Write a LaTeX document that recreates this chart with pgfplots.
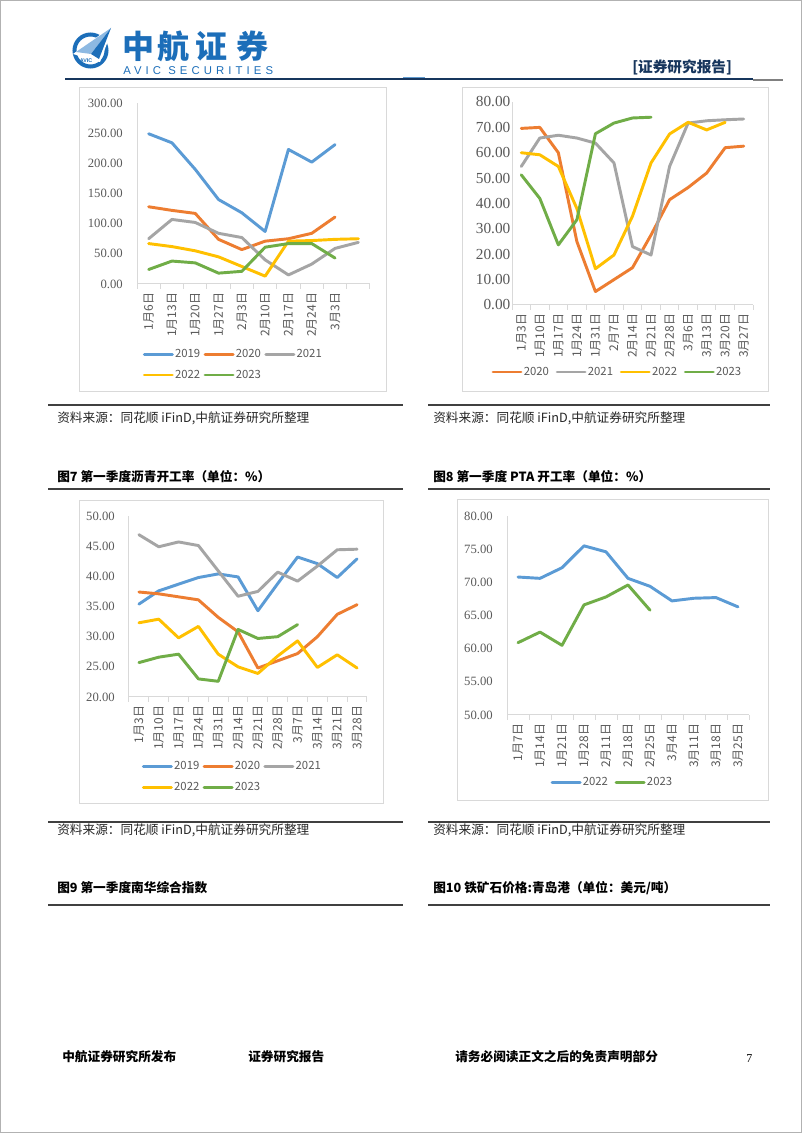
\documentclass[border=0pt]{standalone}
\usepackage{fontspec}
\setmainfont{Liberation Serif}
\newfontfamily\cjk{Noto Sans CJK SC}
\newfontfamily\avic[LetterSpace=36]{Liberation Sans}
\newfontfamily\lsans{Liberation Sans}
\usepackage{pgfplots}
\pgfplotsset{compat=1.18}
\definecolor{c19}{HTML}{5B9BD5}
\definecolor{c20}{HTML}{ED7D31}
\definecolor{c21}{HTML}{A5A5A5}
\definecolor{c22}{HTML}{FFC000}
\definecolor{c23}{HTML}{70AD47}
\definecolor{txt}{HTML}{595959}
\definecolor{axl}{HTML}{D9D9D9}
\definecolor{avicblue}{HTML}{1C6EB9}
\definecolor{aviclight}{HTML}{8DB9E2}
\definecolor{navy}{HTML}{17365D}

\pgfplotsset{
 excel/.style={
  scale only axis, clip=false, anchor=south west,
  axis x line=bottom, axis y line=left,
  axis line style={draw=axl, line width=0.75pt, -},
  tick align=outside,
  major tick length=0pt,
  minor tick length=3.5pt,
  minor tick style={draw=axl, line width=0.75pt},
  ytick style={draw=none},
  yticklabel style={font=\fontsize{9.5}{10}\selectfont, text=txt, inner sep=0pt},
  yticklabel shift=10.5pt,
  xticklabel style={font=\cjk\fontsize{9}{10}\selectfont, text=txt, rotate=90, anchor=east, inner sep=0pt},
  xticklabel shift=6.5pt,
  /pgf/number format/fixed, /pgf/number format/fixed zerofill,
  /pgf/number format/precision=2, /pgf/number format/assume math mode=true,
  legend style={draw=none, fill=none, font=\cjk\fontsize{8.5}{10}\selectfont, text=txt,
    anchor=center, row sep=6pt, /tikz/every even column/.append style={column sep=1.5pt},
    nodes={inner sep=1pt}},
  legend cell align=left,
  legend image code/.code={\draw[##1] (0pt,0pt) -- (21pt,0pt);},
  every axis plot/.append style={line width=2.2pt, line join=round, line cap=round, mark=none},
 }
}

\begin{document}
\begin{tikzpicture}
\useasboundingbox (0,0) rectangle (601.5pt,849.75pt);
\fill[white] (0,0) rectangle (601.5pt,849.75pt);
\begin{scope}[x=0.75pt,y=-0.75pt,shift={(0pt,849.75pt)}]
% page border
\draw[gray!60, line width=1pt] (0.7,0.7) rectangle (801.3,1132.3);
% logo
\draw[avicblue, line width=3pt] (90.5,50.5) circle (16);
\fill[white] (73,54) -- (114,25) -- (100,62) -- cycle;
\fill[aviclight] (76,52) -- (111,28) -- (91,54) -- cycle;
\fill[avicblue] (91,54) -- (111,28) -- (99,59) -- cycle;
\node[font=\lsans\bfseries\fontsize{4}{4}\selectfont, text=avicblue] at (86,61) {AVIC};
\foreach \xx/\ch in {138/中,173/航,211/证,252/券}{
  \node[font=\cjk\bfseries\fontsize{24}{26}\selectfont, text=avicblue, inner sep=0pt] at (\xx,46) {\ch};
}
\node[anchor=west, font=\avic\fontsize{8.5}{9}\selectfont, text=avicblue, inner sep=0pt] at (123,71) {AVIC SECURITIES};
\node[anchor=west, font=\cjk\bfseries\fontsize{11}{12}\selectfont, text=navy, inner sep=0pt] at (632,67) {[证券研究报告]};
% header rule
\draw[navy, line width=1.6pt] (65,79) -- (753,79);
\draw[gray, line width=0.8pt] (753,80) -- (783,80);
\draw[avicblue!70, line width=1.2pt] (403,77.5) -- (425,77.5);
% chart boxes
\draw[axl, line width=0.75pt] (79,88) rectangle (386,392);
\draw[axl, line width=0.75pt] (462,88) rectangle (768,392);
\draw[axl, line width=0.75pt] (79,501) rectangle (383,804);
\draw[axl, line width=0.75pt] (457,500) rectangle (768,801);
% separators
\foreach \yy in {405,489,822,905}{
  \draw[black!75, line width=1.2pt] (48,\yy) -- (403,\yy);
  \draw[black!75, line width=1.2pt] (428,\yy) -- (770,\yy);
}
\foreach \xx/\yy in {57/418,433/418,57/830,433/830}{
  \node[anchor=west, inner sep=0pt, font=\cjk\fontsize{9.5}{11}\selectfont, text=black!85] at (\xx,\yy) {资料来源：同花顺 iFinD,中航证券研究所整理};
}
\node[anchor=west, inner sep=0pt, font=\cjk\bfseries\fontsize{9.5}{11}\selectfont] at (57,477) {图7 第一季度沥青开工率（单位：\%）};
\node[anchor=west, inner sep=0pt, font=\cjk\bfseries\fontsize{9.5}{11}\selectfont] at (433,477) {图8 第一季度 PTA 开工率（单位：\%）};
\node[anchor=west, inner sep=0pt, font=\cjk\bfseries\fontsize{9.5}{11}\selectfont] at (57,888) {图9 第一季度南华综合指数};
\node[anchor=west, inner sep=0pt, font=\cjk\bfseries\fontsize{9.5}{11}\selectfont] at (433,888) {图10 铁矿石价格:青岛港（单位：美元/吨）};
% footer
\node[anchor=west, inner sep=0pt, font=\cjk\bfseries\fontsize{9.5}{11}\selectfont] at (62,1057) {中航证券研究所发布};
\node[anchor=west, inner sep=0pt, font=\cjk\bfseries\fontsize{9.5}{11}\selectfont] at (248,1057) {证券研究报告};
\node[anchor=west, inner sep=0pt, font=\cjk\bfseries\fontsize{9.5}{11}\selectfont] at (455,1057) {请务必阅读正文之后的免责声明部分};
\node[anchor=west, inner sep=0pt, font=\fontsize{9}{10}\selectfont] at (746,1059) {7};
\end{scope}

% ---------- Chart 1 ----------
\begin{axis}[excel, at={(102.75pt,636.75pt)}, width=174.75pt, height=135.75pt,
  xmin=-0.5, xmax=9.5, ymin=0, ymax=300, ytick={0,50,...,300},
  xtick={0,...,9}, xticklabels={1月6日,1月13日,1月20日,1月27日,2月3日,2月10日,2月17日,2月24日,3月3日,{}},
  minor xtick={-0.5,0.5,...,9.5},
  legend columns=3, legend style={at={(0.412,-0.445)}}]
\addplot[c19] coordinates {(0,249)(1,234)(2,190)(3,140)(4,118)(5,87)(6,223)(7,202)(8,231)};
\addlegendentry{2019}
\addplot[c20] coordinates {(0,128)(1,122)(2,117)(3,74)(4,57)(5,71)(6,75)(7,84)(8,111)};
\addlegendentry{2020}
\addplot[c21] coordinates {(0,75)(1,107)(2,102)(3,84)(4,77)(5,40)(6,15)(7,33)(8,59)(9,69)};
\addlegendentry{2021}
\addplot[c22] coordinates {(0,67)(1,62)(2,55)(3,45)(4,29)(5,13)(6,71)(7,72)(8,74)(9,75)};
\addlegendentry{2022}
\addplot[c23] coordinates {(0,24)(1,38)(2,35)(3,18)(4,21)(5,61)(6,67)(7,67)(8,43)};
\addlegendentry{2023}
\end{axis}

% ---------- Chart 2 ----------
\begin{axis}[excel, at={(384pt,621pt)}, width=180.75pt, height=152.25pt,
  xmin=-0.5, xmax=12.5, ymin=0, ymax=80, ytick={0,10,...,80},
  yticklabel style={font=\fontsize{11.5}{12}\selectfont},
  yticklabel shift=1pt,
  xtick={0,...,12}, xticklabels={1月3日,1月10日,1月17日,1月24日,1月31日,2月7日,2月14日,2月21日,2月28日,3月6日,3月13日,3月20日,3月27日},
  minor xtick={-0.5,0.5,...,12.5},
  legend columns=4, legend style={at={(0.436,-0.33)}, /tikz/every even column/.append style={column sep=4pt}}]
\addplot[c20] coordinates {(0,69.6)(1,70.0)(2,60.0)(3,25.0)(4,5.3)(5,10.0)(6,14.7)(7,27.6)(8,41.5)(9,46.3)(10,52.0)(11,62.0)(12,62.6)};
\addlegendentry{2020}
\addplot[c21] coordinates {(0,54.6)(1,65.8)(2,66.9)(3,65.8)(4,63.8)(5,56.0)(6,23.0)(7,19.7)(8,54.6)(9,71.7)(10,72.6)(11,73.0)(12,73.3)};
\addlegendentry{2021}
\addplot[c22] coordinates {(0,60.0)(1,59.2)(2,54.6)(3,38.0)(4,14.3)(5,19.7)(6,35.0)(7,56.0)(8,67.4)(9,72.0)(10,69.0)(11,72.0)};
\addlegendentry{2022}
\addplot[c23] coordinates {(0,51.3)(1,42.0)(2,23.7)(3,33.6)(4,67.5)(5,71.7)(6,73.7)(7,74.0)};
\addlegendentry{2023}
\end{axis}

% ---------- Chart 3 ----------
\begin{axis}[excel, at={(96.75pt,327pt)}, width=178.5pt, height=135.75pt,
  xmin=-0.5, xmax=11.5, ymin=20, ymax=50, ytick={20,25,...,50},
  xtick={0,...,11}, xticklabels={1月3日,1月10日,1月17日,1月24日,1月31日,2月14日,2月21日,2月28日,3月7日,3月14日,3月21日,3月28日},
  minor xtick={-0.5,0.5,...,11.5},
  legend columns=3, legend style={at={(0.433,-0.442)}}]
\addplot[c19] coordinates {(0,35.4)(1,37.6)(2,38.7)(3,39.8)(4,40.4)(5,39.9)(6,34.3)(7,38.8)(8,43.2)(9,42.1)(10,39.8)(11,42.9)};
\addlegendentry{2019}
\addplot[c20] coordinates {(0,37.4)(1,37.1)(2,36.6)(3,36.1)(4,33.2)(5,30.8)(6,24.8)(7,26.0)(8,27.2)(9,30.0)(10,33.7)(11,35.3)};
\addlegendentry{2020}
\addplot[c21] coordinates {(0,46.9)(1,44.9)(2,45.7)(3,45.1)(4,40.9)(5,36.7)(6,37.5)(7,40.7)(8,39.2)(9,41.7)(10,44.4)(11,44.5)};
\addlegendentry{2021}
\addplot[c22] coordinates {(0,32.3)(1,32.9)(2,29.8)(3,31.7)(4,27.1)(5,25.0)(6,23.9)(7,26.8)(8,29.3)(9,24.9)(10,27.0)(11,24.8)};
\addlegendentry{2022}
\addplot[c23] coordinates {(0,25.7)(1,26.6)(2,27.1)(3,23.0)(4,22.6)(5,31.2)(6,29.7)(7,30.0)(8,32.0)};
\addlegendentry{2023}
\end{axis}

% ---------- Chart 4 ----------
\begin{axis}[excel, at={(380.25pt,313.5pt)}, width=181.5pt, height=149.25pt,
  xmin=-0.5, xmax=10.5, ymin=50, ymax=80, ytick={50,55,...,80},
  xtick={0,...,10}, xticklabels={1月7日,1月14日,1月21日,1月28日,2月11日,2月18日,2月25日,3月4日,3月11日,3月18日,3月25日},
  minor xtick={-0.5,0.5,...,10.5},
  legend columns=2, legend style={at={(0.434,-0.337)}, /tikz/every even column/.append style={column sep=4pt}}]
\addplot[c19] coordinates {(0,70.8)(1,70.6)(2,72.2)(3,75.5)(4,74.6)(5,70.6)(6,69.4)(7,67.2)(8,67.6)(9,67.7)(10,66.3)};
\addlegendentry{2022}
\addplot[c23] coordinates {(0,60.9)(1,62.5)(2,60.5)(3,66.6)(4,67.8)(5,69.6)(6,65.8)};
\addlegendentry{2023}
\end{axis}
\end{tikzpicture}
\end{document}
